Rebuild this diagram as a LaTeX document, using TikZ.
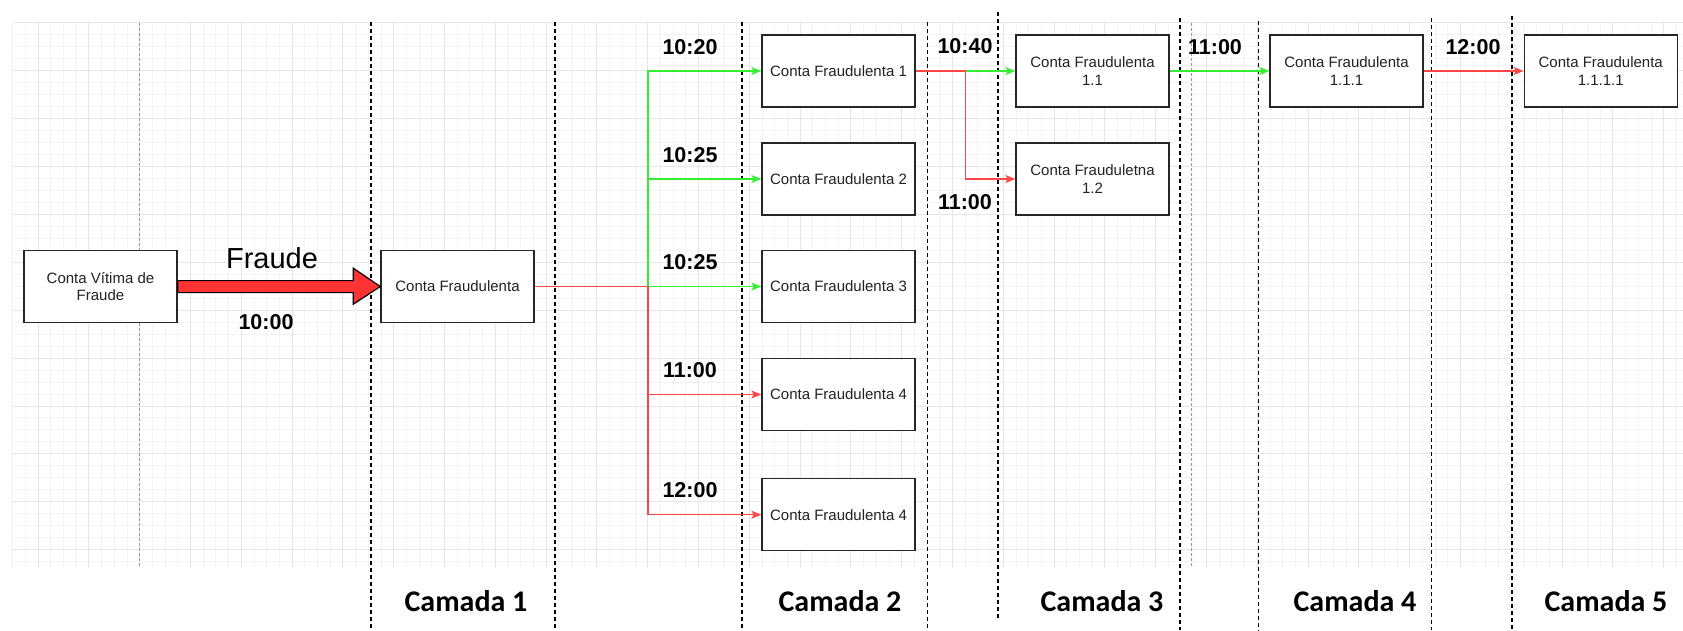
\documentclass[tikz,border=0pt]{standalone}
\usepackage{fontspec}
\setmainfont{Liberation Sans}
\newfontfamily\calfont{Carlito}
\usetikzlibrary{arrows.meta,calc}
\definecolor{gmaj}{HTML}{E6E6E6}
\definecolor{gmin}{HTML}{F3F3F3}
\definecolor{lgreen}{HTML}{33EE33}
\definecolor{lred}{HTML}{FF4545}
\definecolor{afill}{HTML}{FF3333}
\definecolor{boxtext}{HTML}{222222}
\begin{document}
\begin{tikzpicture}[x=1pt,y=-1pt,
  box/.style={draw=black!85, fill=white, line width=1.4pt, minimum width=153pt, minimum height=72pt,
    inner sep=0pt, align=center, text=boxtext, font=\fontsize{15}{17.5}\selectfont},
  tlabel/.style={inner sep=0pt, font=\fontsize{21.5}{24}\selectfont\bfseries},
  camada/.style={inner sep=0pt, font=\fontsize{30}{34}\selectfont\calfont\bfseries},
  gline/.style={draw=lgreen, line width=1.2pt, -{Stealth[length=10pt,width=8pt,inset=2.5pt]}},
  rline/.style={draw=lred, line width=1.2pt, -{Stealth[length=10pt,width=8pt,inset=2.5pt]}},
  layerline/.style={draw=black, line width=1.1pt, dash pattern=on 4pt off 3pt},
  greyline/.style={draw=black!40, line width=1pt, dash pattern=on 3pt off 2pt},
  bigarrow/.style={draw=black, fill=afill, line width=1.2pt, line join=miter}
]
\useasboundingbox (0,0) rectangle (1683,630);
\fill[white] (0,0) rectangle (1683,630);
% grid
\foreach \i in {1,...,132} \draw[gmin, line width=1pt] ({12.7*\i},22.8) -- ({12.7*\i},567.7);
\foreach \j in {0,...,45} \draw[gmin, line width=1pt] (12.7,{22.8+11.975*\j}) -- (1683,{22.8+11.975*\j});
\foreach \i in {0,...,32} \draw[gmaj, line width=1pt] ({38.1+50.8*\i},22.8) -- ({38.1+50.8*\i},567.7);
\foreach \j in {0,...,11} \draw[gmaj, line width=1pt] (12.7,{22.8+47.9*\j}) -- (1683,{22.8+47.9*\j});
\draw[greyline] (139.3,22.8) -- (139.3,567.7);
\draw[greyline] (1191,22.8) -- (1191,567.7);
% layer separators
\draw[layerline] (371,22) -- (371,630);
\draw[layerline] (555,22) -- (555,630);
\draw[layerline] (742,22) -- (742,630);
\draw[layerline] (927.7,22) -- (927.7,630);
\draw[layerline] (998,11.7) -- (998,620);
\draw[layerline] (1180,18) -- (1180,630);
\draw[layerline] (1258.5,20.7) -- (1258.5,630);
\draw[layerline] (1431.5,18) -- (1431.5,630);
\draw[layerline] (1512,16) -- (1512,630);
% boxes
\node[box] (v) at (100.5,286.5) {Conta Vítima de\\Fraude};
\node[box] (c1) at (457.5,286.5) {Conta Fraudulenta};
\node[box] (f1) at (838.5,71) {Conta Fraudulenta 1};
\node[box] (f2) at (838.5,179) {Conta Fraudulenta 2};
\node[box] (f3) at (838.5,286.5) {Conta Fraudulenta 3};
\node[box] (f4) at (838.5,394.5) {Conta Fraudulenta 4};
\node[box] (f5) at (838.5,514.7) {Conta Fraudulenta 4};
\node[box] (g1) at (1092.5,71) {Conta Fraudulenta\\1.1};
\node[box] (g2) at (1092.5,179) {Conta Frauduletna\\1.2};
\node[box] (h1) at (1346.5,71) {Conta Fraudulenta\\1.1.1};
\node[box] (k1) at (1600.7,71) {Conta Fraudulenta\\1.1.1.1};
% big arrow
\draw[bigarrow] ($(v.east)+(0,-5.9)$) -- ($(c1.west)+(-27,-5.9)$) -- ($(c1.west)+(-27,-18.3)$)
  -- (c1.west) -- ($(c1.west)+(-27,17.7)$) -- ($(c1.west)+(-27,6.1)$) -- ($(v.east)+(0,6.1)$) -- cycle;
% connectors
\coordinate (tr) at (648,286.5);
\coordinate (sp) at (965.7,71);
\draw[gline] (c1.east) -- (tr) |- (f1.west);
\draw[gline] (c1.east) -- (tr) |- (f2.west);
\draw[gline] (c1.east) -- (f3.west);
\draw[rline] (c1.east) -- (tr) |- (f4.west);
\draw[rline] (c1.east) -- (tr) |- (f5.west);
\draw[gline] (f1.east) -- (g1.west);
\draw[rline] (f1.east) -- (sp) |- (g2.west);
\draw[gline] (g1.east) -- (h1.west);
\draw[rline] (h1.east) -- (k1.west);
% labels
\node[inner sep=0pt, font=\fontsize{29}{32}\selectfont] (fr) at (272,258.3) {Fraude};
\node[tlabel] (t0) at (266,322.3) {10:00};
\node[tlabel] (ta) at (690,46.7) {10:20};
\node[tlabel] (tb) at (690,155) {10:25};
\node[tlabel] (tc) at (690,262) {10:25};
\node[tlabel] (td) at (690,370) {11:00};
\node[tlabel] (te) at (690,490) {12:00};
\node[tlabel] (tf) at (965,46) {10:40};
\node[tlabel] (tg) at (965,201.7) {11:00};
\node[tlabel] (th) at (1215,46.7) {11:00};
\node[tlabel] (ti) at (1473,46.7) {12:00};
\node[camada] (l1) at (466,601) {Camada 1};
\node[camada] (l2) at (840,601) {Camada 2};
\node[camada] (l3) at (1102,601) {Camada 3};
\node[camada] (l4) at (1355,601) {Camada 4};
\node[camada] (l5) at (1606,601) {Camada 5};
\end{tikzpicture}
\end{document}
